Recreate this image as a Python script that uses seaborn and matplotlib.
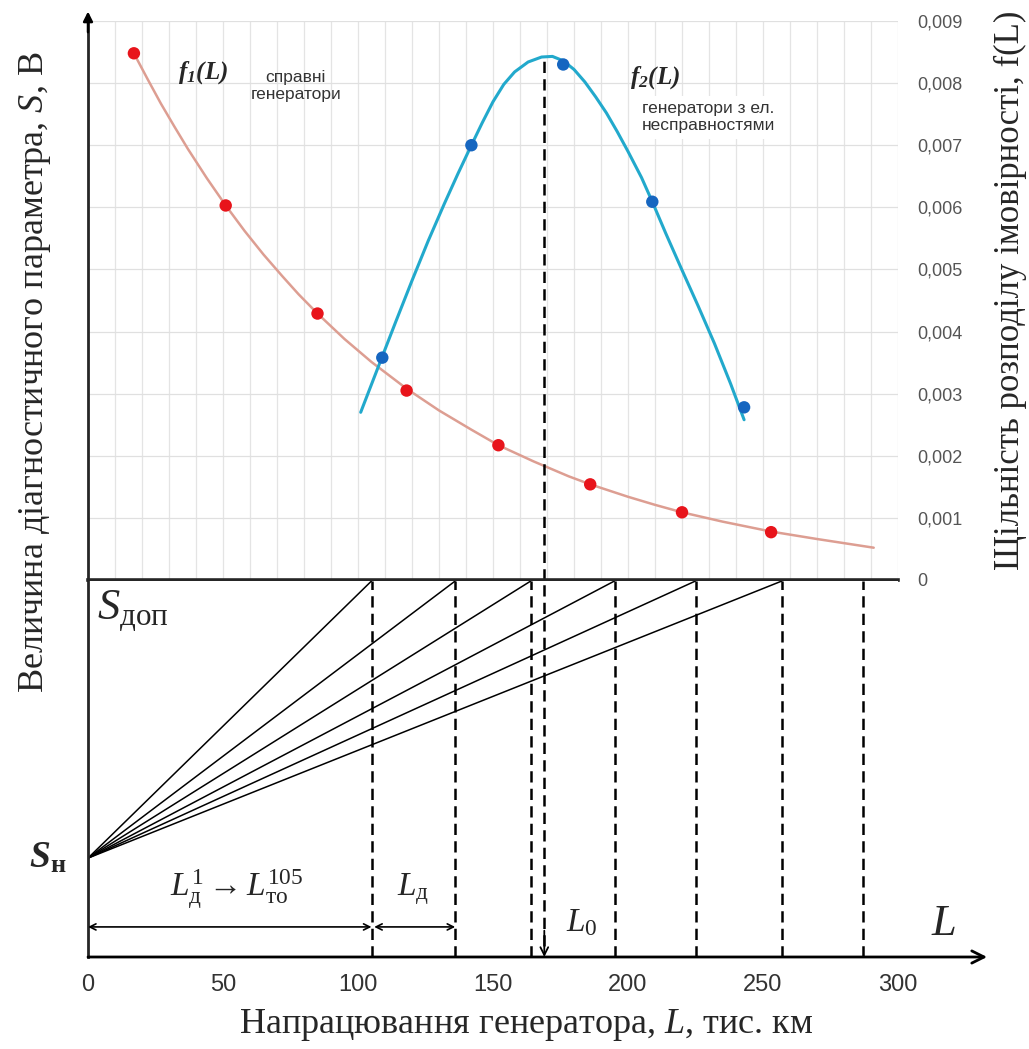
import numpy as np
import pandas as pd
import matplotlib
matplotlib.use("Agg")
import matplotlib.pyplot as plt
import seaborn as sns
from matplotlib.ticker import MultipleLocator

sns.set_style("white")
plt.rcParams['font.family'] = ['Liberation Sans', 'DejaVu Sans']
plt.rcParams['mathtext.fontset'] = 'custom'
plt.rcParams['mathtext.rm'] = 'Liberation Serif'
plt.rcParams['mathtext.it'] = 'Liberation Serif:italic'
plt.rcParams['mathtext.bf'] = 'Liberation Serif:italic:bold'
plt.rcParams['mathtext.sf'] = 'Liberation Serif:bold'

# --- top panel: probability density f(L) ---
f1_pts_L = [17, 51, 85, 118, 152, 186, 220, 253]
f1_pts_y = [0.00848, 0.00603, 0.00429, 0.00305, 0.00217, 0.00154, 0.00109, 0.00077]
f2_pts_L = [109, 142, 176, 209, 243]
f2_pts_y = [0.00358, 0.00700, 0.00830, 0.00609, 0.00278]

# fitted curves
f1_curve_L = [17, 22, 27, 32, 37, 44, 51, 58, 65, 72, 78, 85, 95, 105, 118,
              130, 142, 152, 165, 178, 186, 200, 210, 220, 235, 253, 270, 291]
f1_curve_y = [0.00848, 0.00807, 0.00767, 0.00730, 0.00694, 0.00647, 0.00603,
              0.00562, 0.00524, 0.00489, 0.00460, 0.00429, 0.00388, 0.00351,
              0.00308, 0.00273, 0.00242, 0.00217, 0.00191, 0.00167, 0.00154,
              0.00134, 0.00121, 0.00109, 0.00094, 0.00078, 0.00066, 0.00052]
f2_curve_L = [101, 105, 109, 114, 120, 126, 132, 137, 142, 146, 150, 154,
              158, 163, 168, 172, 176, 180, 184, 188, 192, 196, 200, 205,
              209, 214, 220, 226, 232, 238, 243]
f2_curve_y = [0.0027, 0.00315, 0.0036, 0.00416, 0.00482, 0.00546, 0.00606,
              0.00654, 0.0070, 0.00736, 0.0077, 0.00798, 0.00818, 0.00834,
              0.00842, 0.00843, 0.00836, 0.00822, 0.00802, 0.00778, 0.00752,
              0.00722, 0.0069, 0.00648, 0.00609, 0.00558, 0.00499, 0.00441,
              0.00381, 0.00316, 0.00258]

density_ticks = [0, 0.001, 0.002, 0.003, 0.004, 0.005, 0.006, 0.007, 0.008, 0.009]
density_labels = ['0', '0,001', '0,002', '0,003', '0,004', '0,005',
                  '0,006', '0,007', '0,008', '0,009']

# --- bottom panel: parameter growth S(L) ---
S_n = 0.263
S_dop = 1.0
ray_end_L = [105, 136, 164, 195, 225, 257]
dash_L = [105, 136, 164, 195, 225, 257, 287]
L0 = 169
L0_peak = 0.00843
mileage_ticks = [0, 50, 100, 150, 200, 250, 300]

W, H = 1029, 1049
fig = plt.figure(figsize=(W / 100, H / 100), dpi=100)

# ================= top =================
ax1 = fig.add_axes([88 / W, 1 - 580 / H, 810 / W, 559 / H])
ax1.set_xlim(0, 300)
ax1.set_ylim(0, 0.009)

ax1.xaxis.set_minor_locator(MultipleLocator(10))
ax1.set_xticks(mileage_ticks[1:])
ax1.grid(which='both', axis='x', color='#e4e4e4', lw=0.9)
ax1.grid(which='major', axis='y', color='#e0e0e0', lw=0.9)
ax1.tick_params(axis='x', which='major', direction='in', length=5, width=1.3,
                labelbottom=False, color='k')
ax1.tick_params(axis='x', which='minor', length=0)

ax1.yaxis.tick_right()
ax1.set_yticks(density_ticks)
ax1.set_yticklabels(density_labels)
ax1.tick_params(axis='y', length=0, pad=14, labelsize=13, labelcolor='#555555')

for s in ['top', 'right']:
    ax1.spines[s].set_visible(False)
ax1.spines['left'].set_linewidth(2.0)
ax1.spines['bottom'].set_linewidth(2.6)
ax1.annotate('', xy=(0, 1.017), xytext=(0, 0.98), xycoords='axes fraction',
             arrowprops=dict(arrowstyle='-|>', color='k', lw=1.8,
                             mutation_scale=14, shrinkA=0, shrinkB=0))

sns.lineplot(x=f1_curve_L, y=f1_curve_y, sort=False, color='#dd9e92',
             lw=1.8, ax=ax1)
sns.lineplot(x=f2_curve_L, y=f2_curve_y, sort=False, color='#22a9cc',
             lw=2.2, ax=ax1)
sns.scatterplot(x=f1_pts_L, y=f1_pts_y, color='#e8141b', s=80,
                edgecolor='none', zorder=5, ax=ax1)
sns.scatterplot(x=f2_pts_L, y=f2_pts_y, color='#1666c0', s=80,
                edgecolor='none', zorder=5, ax=ax1)

ax1.vlines(L0, 0, L0_peak, colors='k', linestyles=(0, (4.5, 2.5)), lw=1.8)

ax1.text(42.6, 0.00817, r'$\mathbf{f_1(L)}$', fontsize=18, ha='center', va='center')
ax1.text(77, 0.00795, 'справні\nгенератори', fontsize=12.5, color='#333333',
         ha='center', va='center', linespacing=1.15)
ax1.text(210, 0.00809, r'$\mathbf{f_2(L)}$', fontsize=18, ha='center', va='center')
ax1.text(205, 0.00745, 'генератори з ел.\nнесправностями', fontsize=12.5,
         color='#333333', ha='left', va='center', linespacing=1.15,
         bbox=dict(facecolor='white', edgecolor='none', pad=4))

# ================= bottom =================
ax2 = fig.add_axes([88 / W, 1 - 957 / H, 810 / W, 376 / H])
ax2.set_xlim(0, 300)
ax2.set_ylim(0, 1)

rays = pd.DataFrame({
    'ray': np.repeat(np.arange(len(ray_end_L)), 2),
    'L': np.ravel([[0, e] for e in ray_end_L]),
    'S': np.tile([S_n, S_dop], len(ray_end_L)),
})
sns.lineplot(data=rays, x='L', y='S', units='ray', estimator=None,
             color='k', lw=1.1, ax=ax2)
ax2.set_xlabel('')
ax2.set_ylabel('')

ax2.vlines(dash_L, 0, 1, colors='k', linestyles=(0, (4.5, 2.5)), lw=1.8)
ax2.vlines(L0, 0.03, 1, colors='k', linestyles=(0, (4.5, 2.5)), lw=1.8)
ax2.annotate('', xy=(L0, 0), xytext=(L0, 0.07),
             arrowprops=dict(arrowstyle='->', color='k', lw=1.3,
                             mutation_scale=14, shrinkA=0, shrinkB=0))

for s in ['top', 'right', 'bottom']:
    ax2.spines[s].set_visible(False)
ax2.spines['left'].set_linewidth(2.0)
ax2.annotate('', xy=(333, 0), xytext=(0, 0), annotation_clip=False,
             arrowprops=dict(arrowstyle='->', color='k', lw=2.0,
                             mutation_scale=22, shrinkA=0, shrinkB=0))

# dimension arrows
ax2.annotate('', xy=(0, 0.08), xytext=(dash_L[0], 0.08),
             arrowprops=dict(arrowstyle='<->', color='k', lw=1.2,
                             mutation_scale=11, shrinkA=0, shrinkB=0))
ax2.annotate('', xy=(dash_L[0] + 1, 0.08), xytext=(dash_L[1], 0.08),
             arrowprops=dict(arrowstyle='<->', color='k', lw=1.2,
                             mutation_scale=11, shrinkA=0, shrinkB=0))

ax2.set_xticks(mileage_ticks)
ax2.set_xticklabels([str(t) for t in mileage_ticks])
ax2.tick_params(axis='x', length=0, pad=12, labelsize=17, labelcolor='#333333')
ax2.set_yticks([])

ax2.text(3.5, 0.92, r'$S_{\mathrm{доп}}$', fontsize=32, ha='left', va='center')
ax2.text(55, 0.18, r'$L_{\mathrm{д}}^{1} \rightarrow L_{\mathrm{то}}^{105}$',
         fontsize=24, ha='center', va='center')
ax2.text(120.5, 0.18, r'$L_{\mathrm{д}}$', fontsize=24, ha='center', va='center')
ax2.text(183, 0.09, r'$L_0$', fontsize=24, ha='center', va='center')
ax2.text(317, 0.09, r'$L$', fontsize=32, ha='center', va='center')

fig.text(48 / W, 1 - 858 / H, r'$\mathbf{S}_{\mathsf{н}}$', fontsize=27,
         ha='center', va='center')

# axis titles
fig.text(526 / W, 1 - 1025 / H, 'Напрацювання генератора, $L$, тис. км',
         family='Liberation Serif', fontsize=26, ha='center', va='center')
fig.text(35 / W, 1 - 372 / H, 'Величина діагностичного параметра, $S$, В',
         family='Liberation Serif', fontsize=26, rotation=90,
         ha='center', va='center')
fig.text(1010 / W, 1 - 290 / H, 'Щільність розподілу імовірності, f(L)',
         family='Liberation Serif', fontsize=25, rotation=90,
         ha='center', va='center')

fig.savefig('out.png', dpi=100)
